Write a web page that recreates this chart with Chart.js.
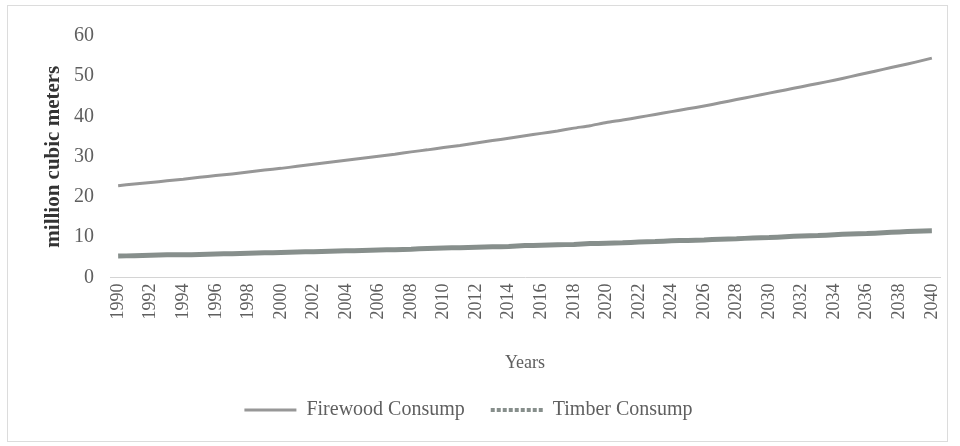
<!DOCTYPE html>
<html>
<head>
<meta charset="utf-8">
<script src="https://cdn.jsdelivr.net/npm/chart.js@4/dist/chart.umd.min.js"></script>
<style>
  html, body { margin: 0; padding: 0; background: #fff; }
  #wrap { position: relative; width: 960px; height: 446px; }
  #frame {
    position: absolute; left: 7px; top: 5px; width: 941px; height: 437px;
    border: 1px solid #dcdcdc; box-sizing: border-box; pointer-events: none;
  }
</style>
</head>
<body>
<div id="wrap">
  <canvas id="consumptionChart" width="960" height="446"></canvas>
  <div id="frame"></div>
</div>
<script>
  // years on the x axis
  const years = [
    "1990", "1991", "1992", "1993", "1994", "1995", "1996", "1997", "1998", "1999",
    "2000", "2001", "2002", "2003", "2004", "2005", "2006", "2007", "2008", "2009",
    "2010", "2011", "2012", "2013", "2014", "2015", "2016", "2017", "2018", "2019",
    "2020", "2021", "2022", "2023", "2024", "2025", "2026", "2027", "2028", "2029",
    "2030", "2031", "2032", "2033", "2034", "2035", "2036", "2037", "2038", "2039",
    "2040"
  ];

  // million cubic meters per year
  const firewood = [
    22.8, 23.2, 23.6, 24.0, 24.4, 24.9, 25.3, 25.7, 26.2, 26.7,
    27.1, 27.6, 28.1, 28.6, 29.1, 29.6, 30.1, 30.6, 31.2, 31.7,
    32.3, 32.8, 33.4, 34.0, 34.6, 35.2, 35.8, 36.4, 37.1, 37.7,
    38.5, 39.1, 39.8, 40.5, 41.2, 41.9, 42.6, 43.4, 44.2, 45.0,
    45.8, 46.6, 47.4, 48.2, 49.0, 49.9, 50.8, 51.7, 52.6, 53.5,
    54.5
  ];

  const timber = [
    5.3, 5.4, 5.5, 5.6, 5.6, 5.7, 5.8, 5.9, 6.0, 6.1,
    6.2, 6.3, 6.4, 6.5, 6.6, 6.7, 6.8, 6.9, 7.0, 7.2,
    7.3, 7.4, 7.5, 7.6, 7.7, 7.9, 8.0, 8.1, 8.2, 8.4,
    8.5, 8.6, 8.8, 8.9, 9.1, 9.2, 9.3, 9.5, 9.6, 9.8,
    9.9, 10.1, 10.3, 10.4, 10.6, 10.8, 10.9, 11.1, 11.3, 11.5,
    11.6
  ];

  const yTicks = [0, 10, 20, 30, 40, 50, 60];

  const serif = "'Liberation Serif', 'DejaVu Serif', serif";
  const textGrey = "#5f5f5f";

  // nudge the legend a little left of the canvas centre
  const legendShift = {
    id: "legendShift",
    afterLayout(chart) {
      if (chart.legend) {
        chart.legend.left -= 20;
        chart.legend.right -= 20;
      }
    },
  };

  new Chart(document.getElementById("consumptionChart"), {
    type: "line",
    data: {
      labels: years,
      datasets: [
        {
          label: "Firewood Consump",
          data: firewood,
          borderColor: "#979797",
          backgroundColor: "#979797",
          borderWidth: 3,
          pointRadius: 0,
          tension: 0.2,
        },
        {
          label: "Timber Consump",
          data: timber,
          borderColor: "#878f8c",
          backgroundColor: "#878f8c",
          borderWidth: 5,
          pointRadius: 0,
          tension: 0.2,
        },
      ],
    },
    plugins: [legendShift],
    options: {
      responsive: false,
      animation: false,
      layout: { padding: { left: 37, right: 20, top: 36, bottom: 16 } },
      plugins: {
        tooltip: { enabled: false },
        legend: {
          position: "bottom",
          labels: {
            color: textGrey,
            font: { family: serif, size: 20 },
            usePointStyle: true,
            pointStyle: "line",
            pointStyleWidth: 52,
            padding: 26,
            generateLabels(chart) {
              const items = Chart.defaults.plugins.legend.labels.generateLabels(chart);
              items.forEach((item, i) => {
                item.pointStyle = "line";
                item.lineWidth = i === 0 ? 3 : 4;
                item.lineDash = i === 1 ? [4, 2] : [];
              });
              return items;
            },
          },
        },
      },
      scales: {
        x: {
          offset: true,
          grid: { drawOnChartArea: false, drawTicks: false },
          border: { display: true, color: "#d4d4d4", width: 1 },
          ticks: {
            autoSkip: false,
            maxRotation: 90,
            minRotation: 90,
            padding: 6,
            color: textGrey,
            font: { family: serif, size: 18 },
            callback(value, index) {
              return index % 2 === 0 ? years[index] : "";
            },
          },
          title: {
            display: true,
            text: "Years",
            color: textGrey,
            font: { family: serif, size: 18 },
            padding: { top: 27, bottom: 0 },
          },
        },
        y: {
          min: yTicks[0],
          max: yTicks[yTicks.length - 1],
          grid: { display: false },
          border: { display: false },
          afterBuildTicks(scale) {
            scale.ticks = yTicks.map((v) => ({ value: v }));
          },
          afterFit(scale) {
            scale.width = 73;
          },
          ticks: {
            padding: 8,
            color: textGrey,
            font: { family: serif, size: 20 },
          },
          title: {
            display: true,
            text: "million cubic meters",
            color: "#333",
            font: { family: serif, size: 21, weight: "bold" },
            padding: 4,
          },
        },
      },
    },
  });
</script>
</body>
</html>
